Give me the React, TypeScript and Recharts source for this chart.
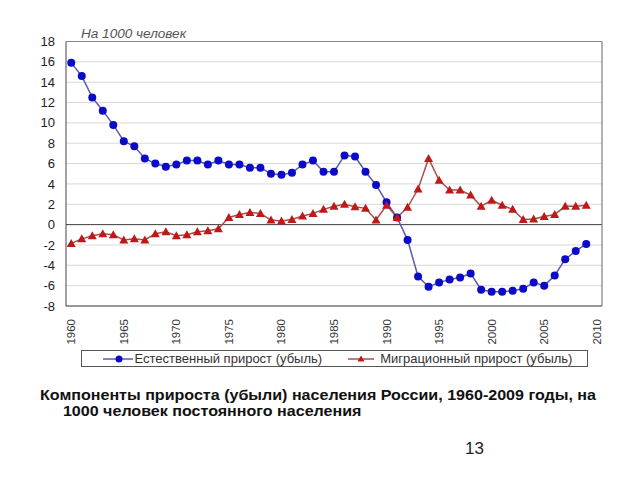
import React from "react";
import { LineChart, Line, XAxis, YAxis, CartesianGrid, ReferenceLine, Legend } from "recharts";

const years = [
  1960, 1961, 1962, 1963, 1964, 1965, 1966, 1967, 1968, 1969,
  1970, 1971, 1972, 1973, 1974, 1975, 1976, 1977, 1978, 1979,
  1980, 1981, 1982, 1983, 1984, 1985, 1986, 1987, 1988, 1989,
  1990, 1991, 1992, 1993, 1994, 1995, 1996, 1997, 1998, 1999,
  2000, 2001, 2002, 2003, 2004, 2005, 2006, 2007, 2008, 2009,
];

// естественный прирост (убыль)
const natural = [
  15.9, 14.6, 12.5, 11.2, 9.8, 8.2, 7.7, 6.5, 6.0, 5.7,
  5.9, 6.3, 6.3, 5.9, 6.3, 5.9, 5.9, 5.6, 5.6, 5.0,
  4.9, 5.1, 5.9, 6.3, 5.2, 5.2, 6.8, 6.7, 5.2, 3.9,
  2.2, 0.7, -1.5, -5.1, -6.1, -5.7, -5.4, -5.2, -4.8, -6.4,
  -6.6, -6.6, -6.5, -6.3, -5.7, -6.0, -5.0, -3.4, -2.6, -1.9,
];

// миграционный прирост (убыль)
const migration = [
  -1.85, -1.4, -1.1, -0.9, -1.0, -1.5, -1.4, -1.5, -0.9, -0.7,
  -1.1, -1.0, -0.7, -0.6, -0.4, 0.7, 1.0, 1.2, 1.1, 0.45,
  0.35, 0.5, 0.85, 1.1, 1.5, 1.8, 2.0, 1.75, 1.6, 0.45,
  1.9, 0.7, 1.7, 3.5, 6.5, 4.35, 3.4, 3.4, 2.9, 1.8,
  2.4, 1.9, 1.5, 0.5, 0.55, 0.8, 1.0, 1.8, 1.8, 1.9,
];

const xTicks = [1960, 1965, 1970, 1975, 1980, 1985, 1990, 1995, 2000, 2005, 2010];
const yTicks = [-8, -6, -4, -2, 0, 2, 4, 6, 8, 10, 12, 14, 16, 18];

const BLUE = "#0a0ac8";
const BLUE_LINE = "#5a5ab0";
const RED = "#c01818";
const RED_LINE = "#a85050";
const FONT = "'Liberation Sans', Arial, sans-serif";

const data = years.map((year, i) => ({ year, natural: natural[i], migration: migration[i] }));

const Triangle = (props: any) => {
  const { cx, cy } = props;
  if (cx == null || cy == null) return null;
  return <polygon points={`${cx},${cy - 4.5} ${cx - 4.5},${cy + 3.5} ${cx + 4.5},${cy + 3.5}`} fill={RED} />;
};

const YearTick = (props: any) => {
  const { x, y, payload } = props;
  return (
    <text
      x={x}
      y={y}
      transform={`rotate(-90, ${x}, ${y})`}
      textAnchor="end"
      dominantBaseline="central"
      fontSize={11.5}
      fontFamily={FONT}
      fill="#333"
    >
      {payload.value}
    </text>
  );
};

const LegendBox = () => (
  <div
    style={{
      border: "1px solid #555",
      height: 17,
      display: "flex",
      alignItems: "center",
      justifyContent: "center",
      fontFamily: FONT,
      fontSize: 13,
      color: "#333",
      gap: 26,
      boxSizing: "border-box",
      paddingLeft: 6,
    }}
  >
    <span style={{ display: "flex", alignItems: "center", gap: 2 }}>
      <svg width={30} height={10}>
        <line x1={0} y1={5} x2={30} y2={5} stroke={BLUE_LINE} strokeWidth={1.5} />
        <circle cx={16} cy={5} r={3.5} fill={BLUE} />
      </svg>
      Естественный прирост (убыль)
    </span>
    <span style={{ display: "flex", alignItems: "center", gap: 6 }}>
      <svg width={26} height={10}>
        <line x1={0} y1={5} x2={26} y2={5} stroke={RED_LINE} strokeWidth={1.5} />
        <polygon points="13,1.5 9.5,7.5 16.5,7.5" fill={RED} />
      </svg>
      Миграционный прирост (убыль)
    </span>
  </div>
);

export default function App() {
  return (
    <div style={{ position: "absolute", left: 0, top: 0, width: 640, height: 480, background: "#fff" }}>
      <div
        style={{
          position: "absolute",
          left: 81,
          top: 27,
          fontFamily: FONT,
          fontStyle: "italic",
          fontSize: 12,
          color: "#555",
          transform: "scaleX(1.13)",
          transformOrigin: "left top",
          whiteSpace: "nowrap",
        }}
      >
        На 1000 человек
      </div>
      <LineChart
        width={640}
        height={370}
        data={data}
        margin={{ top: 41.5, right: 38, left: 0, bottom: 0 }}
      >
        <CartesianGrid horizontal vertical={false} stroke="#d8d8d8" />
        <XAxis
          dataKey="year"
          type="number"
          domain={[1959.5, 2010.5]}
          ticks={xTicks}
          interval={0}
          tick={<YearTick />}
          tickLine={false}
          tickSize={4}
          tickMargin={9}
          height={40}
          stroke="#444"
          allowDataOverflow
        />
        <YAxis
          type="number"
          domain={[-8, 18]}
          ticks={yTicks}
          interval={0}
          width={66}
          tickLine={false}
          tickSize={6}
          tickMargin={5}
          stroke="#444"
          tick={{ fontSize: 13, fontFamily: FONT, fill: "#222" }}
        />
        <ReferenceLine y={0} stroke="#444" />
        <ReferenceLine y={18} stroke="#888" />
        <ReferenceLine x={2010.5} stroke="#666" />
        <Legend
          verticalAlign="bottom"
          height={24}
          content={<LegendBox />}
          wrapperStyle={{ left: 81, width: 507, top: 350, bottom: "auto" }}
        />
        <Line
          dataKey="natural"
          stroke={BLUE_LINE}
          strokeWidth={1.5}
          dot={{ r: 4, fill: BLUE, stroke: BLUE, strokeWidth: 0 }}
          isAnimationActive={false}
        />
        <Line
          dataKey="migration"
          stroke={RED_LINE}
          strokeWidth={1.5}
          dot={<Triangle />}
          isAnimationActive={false}
        />
      </LineChart>
      <div
        style={{
          position: "absolute",
          left: 40,
          top: 388,
          fontFamily: FONT,
          fontWeight: "bold",
          fontSize: 14,
          lineHeight: "15.5px",
          color: "#111",
          transform: "scaleX(1.147)",
          transformOrigin: "left top",
          whiteSpace: "nowrap",
        }}
      >
        Компоненты прироста (убыли) населения России, 1960-2009 годы, на
        <div style={{ paddingLeft: 20 }}>1000 человек постоянного населения</div>
      </div>
      <div style={{ position: "absolute", left: 465, top: 439, fontFamily: FONT, fontSize: 17, color: "#222" }}>13</div>
    </div>
  );
}
